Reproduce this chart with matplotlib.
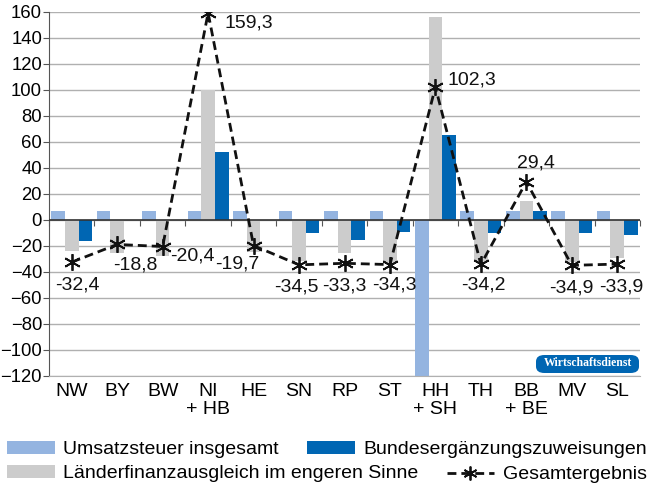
import numpy as np
import matplotlib.pyplot as plt
from matplotlib.patches import FancyBboxPatch

plt.rcParams['font.family'] = ['Liberation Sans', 'DejaVu Sans']

# Daten
laender = ['NW', 'BY', 'BW', 'NI\n+ HB', 'HE', 'SN', 'RP', 'ST', 'HH\n+ SH', 'TH', 'BB\n+ BE', 'MV', 'SL']
umsatzsteuer = [7, 7, 7, 7, 7, 7, 7, 7, -120, 7, 7, 7, 7]
lfa = [-23.5, -25.5, -27.7, 100, -25, -31.3, -25.6, -33, 156, -32, 14.8, -32.5, -29.5]
bez = [-16.2, 0, 0, 52.5, 0, -10.3, -15.4, -9.5, 65.4, -9.8, 7.2, -10, -11.5]
gesamt = [-32.4, -18.8, -20.4, 159.3, -19.7, -34.5, -33.3, -34.3, 102.3, -34.2, 29.4, -34.9, -33.9]
gesamt_labels = ['-32,4', '-18,8', '-20,4', '159,3', '-19,7', '-34,5', '-33,3', '-34,3',
                 '102,3', '-34,2', '29,4', '-34,9', '-33,9']
# Versatz der Beschriftungen in Punkten
label_offsets = [(4, -16.5), (13, -14.5), (21.5, -7), (29.5, -7), (-12, -13), (-2, -16), (0, -16),
                 (3, -14.5), (26, 5), (2, -14.5), (7, 13.5), (0, -16), (3, -16.5)]

c_ust = '#94b4e0'
c_lfa = '#cccccc'
c_bez = '#0066b3'
fs = 14

fig = plt.figure(figsize=(6.5, 4.98), dpi=100)
ax = fig.add_axes([49/650, 1 - 376/498, 591/650, 364/498])

x = np.arange(len(laender))
w = 0.3
b_ust = ax.bar(x - w, umsatzsteuer, w, color=c_ust, label='Umsatzsteuer insgesamt', zorder=2)
b_lfa = ax.bar(x, lfa, w, color=c_lfa, label='Länderfinanzausgleich im engeren Sinne', zorder=2)
b_bez = ax.bar(x + w, bez, w, color=c_bez, label='Bundesergänzungszuweisungen', zorder=2)
ln, = ax.plot(x, gesamt, color='#111111', linestyle=(0, (3.2, 1.8)), linewidth=2,
              marker=(6, 2, 0), markersize=12, markeredgewidth=1.3, label='Gesamtergebnis', zorder=4)

for xi, yi, t, off in zip(x, gesamt, gesamt_labels, label_offsets):
    ax.annotate(t, (xi, yi), xytext=off, textcoords='offset points',
                ha='center', va='center', fontsize=fs, color='#111111', zorder=5)

ax.set_xlim(-0.5, len(laender) - 0.5)
ax.set_ylim(-120, 160)
ax.set_yticks(np.arange(-120, 161, 20))
ax.yaxis.grid(True, color='#b0b0b0', linewidth=1)
ax.set_axisbelow(True)
ax.tick_params(axis='y', labelsize=13.3, length=4, color='#555555', pad=1)

ax.set_xticks(x)
ax.set_xticklabels(laender, fontsize=fs, linespacing=1.05)
ax.tick_params(axis='x', length=0, pad=5)

for s in ['top', 'right']:
    ax.spines[s].set_visible(False)
ax.spines['left'].set_color('#555555')
ax.spines['bottom'].set_color('#b0b0b0')

# Nulllinie mit Teilstrichen
ax.axhline(0, color='#333333', linewidth=1.2, zorder=3)
sec = ax.secondary_xaxis(120 / 280)
sec.set_xticks(np.arange(-0.5, len(laender), 1))
sec.set_xticklabels([])
sec.tick_params(length=4, color='#555555', direction='out')
sec.spines['bottom'].set_visible(False)

# Logo
badge = FancyBboxPatch((536/650, 1 - 373/498), 103/650, 18/498,
                       boxstyle='round,pad=0,rounding_size=0.013', transform=fig.transFigure,
                       facecolor='#0066b3', edgecolor='none', zorder=6)
fig.patches.append(badge)
fig.text(587.5/650, 1 - 363.5/498, 'Wirtschaftsdienst', color='white', fontsize=8.5,
         family='Liberation Serif', fontweight='bold', ha='center', va='center', zorder=7)

# Legende
leg_kw = dict(frameon=False, fontsize=fs, handlelength=2.45, handleheight=0.65,
              handletextpad=0.45, labelspacing=0.32, borderaxespad=0, borderpad=0)
fig.legend([b_ust, b_lfa], ['Umsatzsteuer insgesamt', 'Länderfinanzausgleich im engeren Sinne'],
           loc='upper left', bbox_to_anchor=(7/650, 1 - 441/498), **leg_kw)
fig.legend([b_bez], ['Bundesergänzungszuweisungen'],
           loc='upper right', bbox_to_anchor=(647/650, 1 - 441/498), **leg_kw)
leg = fig.legend([ln], ['Gesamtergebnis'],
                 loc='upper right', bbox_to_anchor=(647/650, 1 - 466/498), **leg_kw)
for lh in leg.legend_handles:
    lh.set_markersize(10)

fig.savefig('out.png', dpi=100)
